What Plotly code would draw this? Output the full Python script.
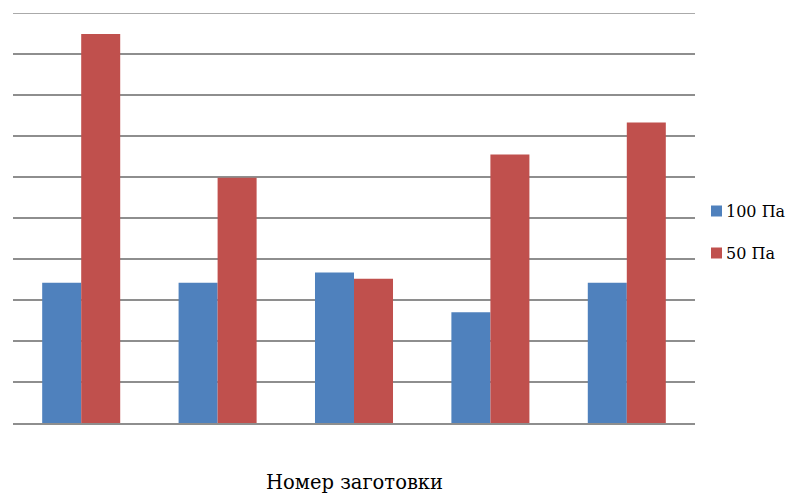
import plotly.graph_objects as go

# Номера заготовок (подписи по оси X скрыты)
blanks = ["1", "2", "3", "4", "5"]
# Значения для двух режимов давления
p100 = [3.42, 3.42, 3.67, 2.70, 3.42]
p50 = [9.49, 5.98, 3.52, 6.55, 7.33]
series_names = ["100 Па", "50 Па"]

blue = "#4F81BD"
red = "#C0504D"
grid = "#8e8e8e"
colors = [blue, red]
serif = "DejaVu Serif"

fig = go.Figure()
fig.add_trace(go.Bar(x=blanks, y=p100, name=series_names[0], marker_color=blue,
                     marker_line_width=0))
fig.add_trace(go.Bar(x=blanks, y=p50, name=series_names[1], marker_color=red,
                     marker_line_width=0))

# Легенда справа: квадратные маркеры и подписи серий
legend_shapes = []
legend_notes = []
for i, (name, col) in enumerate(zip(series_names, colors)):
    cy = 211 + i * 42
    legend_shapes.append(dict(type="rect", xref="paper", yref="paper",
                              xsizemode="pixel", ysizemode="pixel",
                              xanchor=1.0, yanchor=0,
                              x0=711 - 695, x1=722 - 695,
                              y0=-(cy - 5.5 - 423), y1=-(cy + 5.5 - 423),
                              line_width=0, fillcolor=col))
    legend_notes.append(dict(text=name, xref="paper", yref="paper",
                             x=1.0, y=0, xshift=724 - 695, yshift=423 - cy,
                             xanchor="left", yanchor="middle", showarrow=False,
                             font=dict(family=serif, size=16, color="#000000")))

fig.update_layout(
    width=799, height=495,
    margin=dict(l=13, r=104, t=13, b=72),
    paper_bgcolor="white", plot_bgcolor="white",
    barmode="group", bargap=0.428, bargroupgap=0,
    font=dict(family=serif, color="#000000"),
    showlegend=False,
    xaxis=dict(showticklabels=False, showgrid=False, showline=True,
               linecolor=grid, linewidth=1.5, ticks=""),
    yaxis=dict(range=[0, 10], dtick=1, showticklabels=False, showgrid=True,
               gridcolor=grid, gridwidth=1.5, zeroline=False, ticks=""),
    shapes=legend_shapes + [
        # верхняя линия сетки на уровне 10
        dict(type="line", xref="paper", yref="y", x0=0, x1=1, y0=10, y1=10,
             line=dict(color=grid, width=1.5), layer="below"),
    ],
    annotations=legend_notes + [
        dict(text="Номер заготовки", xref="paper", yref="paper",
             x=0.5, y=0, yshift=-59, xanchor="center", yanchor="middle",
             showarrow=False, font=dict(family=serif, size=19.5, color="#000000"))],
)

fig.write_html("out.html")
